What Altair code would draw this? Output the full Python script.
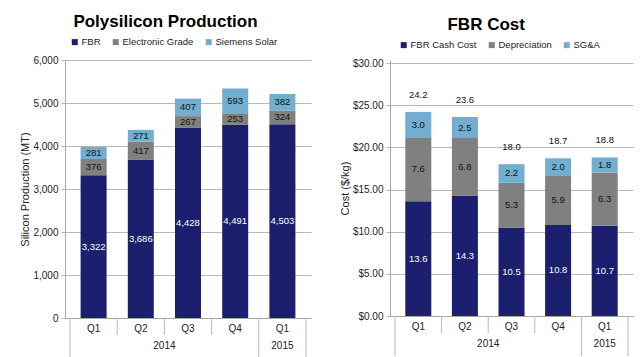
import altair as alt
import pandas as pd

quarters = ["Q1", "Q2", "Q3", "Q4", "Q1"]
years = ["2014", "2014", "2014", "2014", "2015"]

prod_series = ["FBR", "Electronic Grade", "Siemens Solar"]
fbr = [3322, 3686, 4428, 4491, 4503]
electronic = [376, 417, 267, 253, 324]
siemens = [281, 271, 407, 593, 382]

cost_series = ["FBR Cash Cost", "Depreciation", "SG&A"]
cash_cost = [13.6, 14.3, 10.5, 10.8, 10.7]
depreciation = [7.6, 6.8, 5.3, 5.9, 6.3]
sga = [3.0, 2.5, 2.2, 2.0, 1.8]
cost_totals = [24.2, 23.6, 18.0, 18.7, 18.8]

colors = ["#1b1f6d", "#808080", "#72aed0"]
FONT = "Liberation Sans"


def long_df(series_names, arrays):
    rows = []
    for k, (name, arr) in enumerate(zip(series_names, arrays)):
        for i, v in enumerate(arr):
            rows.append({"idx": i, "quarter": quarters[i], "year": years[i],
                         "series": name, "value": v, "order": k,
                         "light": 1 if k == 0 else 0})
    return pd.DataFrame(rows)


cat_df = pd.DataFrame({"idx": list(range(len(quarters))), "quarter": quarters, "year": years})
bounds = []
for i in range(len(quarters) + 1):
    edge = i == 0 or i == len(quarters) or years[i] != years[i - 1]
    bounds.append({"b": i - 0.5, "long": 1 if edge else 0})
sep_df = pd.DataFrame(bounds)


def panel(title, series_names, arrays, ymax, ytop, ystep, yfmt, ytitle, label_fmt, W, H,
          legend_x, legend_y, title_offset, totals=None):
    df = long_df(series_names, arrays)
    xscale = alt.Scale(domain=[-0.5, len(quarters) - 0.5], nice=False, zero=False)
    yscale = alt.Scale(domain=[0, ytop], nice=False)
    x = alt.X("idx:Q", scale=xscale,
              axis=alt.Axis(labels=False, ticks=False, grid=False, title=None,
                            domainColor="#a6a6a6"))
    bars = alt.Chart(df).mark_bar(size=26).encode(
        x=x,
        y=alt.Y("value:Q", stack="zero", scale=yscale,
                axis=alt.Axis(values=[ystep * k for k in range(int(round(ymax / ystep)) + 1)],
                              format=yfmt, title=ytitle, grid=True, gridColor="#b8b8b8",
                              domainColor="#a6a6a6", tickColor="#b8b8b8", tickSize=4,
                              labelFontSize=10, labelColor="#222222", labelPadding=3,
                              titleFontSize=11, titleFontWeight="normal", titleColor="#222222",
                              titlePadding=2)),
        color=alt.Color("series:N", scale=alt.Scale(domain=series_names, range=colors),
                        legend=alt.Legend(orient="none", legendX=legend_x, legendY=legend_y,
                                          direction="horizontal", title=None,
                                          symbolType="square", symbolSize=36,
                                          symbolStrokeWidth=0, labelFontSize=9.5,
                                          labelColor="#222222", labelOffset=2,
                                          columnPadding=10)),
        order=alt.Order("order:Q"),
    )
    labels = alt.Chart(df).transform_stack(
        stack="value", groupby=["idx"], as_=["y0", "y1"], sort=[{"field": "order"}]
    ).transform_calculate(mid="(datum.y0 + datum.y1) / 2").mark_text(
        fontSize=9.5, baseline="middle"
    ).encode(
        x=alt.X("idx:Q", scale=xscale),
        y=alt.Y("mid:Q", scale=yscale),
        text=alt.Text("value:Q", format=label_fmt),
        color=alt.condition("datum.light == 1", alt.value("white"), alt.value("#111111")),
    )
    qlab = alt.Chart(cat_df).mark_text(fontSize=10, baseline="middle", color="#222222").encode(
        x=alt.X("idx:Q", scale=xscale), y=alt.value(H + 11), text="quarter:N")
    ylab = alt.Chart(cat_df).transform_aggregate(
        xm="mean(idx)", groupby=["year"]
    ).mark_text(fontSize=10, baseline="middle", color="#222222").encode(
        x=alt.X("xm:Q", scale=xscale), y=alt.value(H + 28), text="year:N")
    short = alt.Chart(sep_df).transform_filter("datum.long == 0").mark_rule(
        color="#b8b8b8").encode(x=alt.X("b:Q", scale=xscale), y=alt.value(H), y2=alt.value(H + 17))
    long_ = alt.Chart(sep_df).transform_filter("datum.long == 1").mark_rule(
        color="#b8b8b8").encode(x=alt.X("b:Q", scale=xscale), y=alt.value(H), y2=alt.value(H + 40))
    layers = [bars, labels, short, long_, qlab, ylab]
    if totals is not None:
        tdf = pd.DataFrame({"idx": list(range(len(totals))), "total": totals})
        tl = alt.Chart(tdf).mark_text(fontSize=9.5, dy=-17, baseline="middle",
                                      color="#111111").encode(
            x=alt.X("idx:Q", scale=xscale), y=alt.Y("total:Q", scale=yscale),
            text=alt.Text("total:Q", format=".1f"))
        layers.append(tl)
    return alt.layer(*layers).properties(
        width=W, height=H,
        title=alt.TitleParams(title, fontSize=17, fontWeight="bold", anchor="middle",
                              frame="bounds", color="#000000", offset=title_offset),
    )


left = panel("Polysilicon Production", prod_series, [fbr, electronic, siemens],
             6000, 6000, 1000, ",d", "Silicon Production (MT)", ",d", 246, 258, 5, -23, 6)
right = panel("FBR Cost", cost_series, [cash_cost, depreciation, sga],
              30, 30 * 256 / 253, 5, "$.2f", "Cost ($/kg)", ".1f", 243, 256, 9, -20, 6,
              totals=cost_totals)

chart = alt.hconcat(left, right, spacing=28).resolve_scale(
    color="independent", y="independent", x="independent"
).properties(
    padding={"left": 19, "top": 13, "right": 5, "bottom": 0},
    background="white",
).configure(font=FONT).configure_view(stroke=None)

chart.save("out.html", embed_options={"renderer": "svg", "actions": False})
